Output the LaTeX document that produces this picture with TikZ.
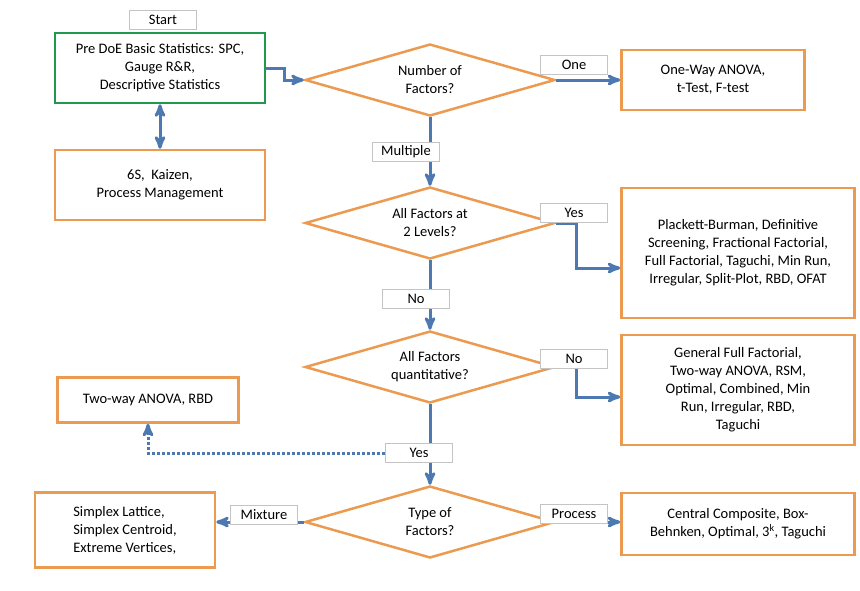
\documentclass[tikz,border=0pt]{standalone}
\usepackage{fontspec}
\setmainfont{Carlito}
\usetikzlibrary{arrows,shapes.geometric}
\definecolor{boxorange}{HTML}{EB9A50}
\definecolor{boxgreen}{HTML}{1F9A4C}
\definecolor{flowblue}{HTML}{4C79B2}
\definecolor{tagborder}{HTML}{C4C4C4}
\begin{document}
\begin{tikzpicture}[x=1pt,y=-1pt,>=stealth',font=\fontsize{14.5}{18}\selectfont,
  box node/.style={rectangle,draw=boxorange,line width=2.5pt,align=center,inner sep=2pt},
  start node/.style={rectangle,draw=boxgreen,line width=2.5pt,align=center,inner sep=2pt},
  decision node/.style={diamond,aspect=3.4,draw=boxorange,line width=2.5pt,align=center,inner sep=0pt,minimum width=250pt,minimum height=72pt},
  tag node/.style={rectangle,draw=tagborder,fill=white,line width=1pt,minimum width=67pt,minimum height=19pt,inner sep=1pt},
  flow/.style={->,draw=flowblue,line width=3pt}]

  \useasboundingbox (0,0) rectangle (860,590);

  % boxes on the left
  \node[tag node] (start) at (163,20) {Start};
  \node[start node,minimum width=210pt,minimum height=70pt] (pre) at (160,68) {Pre DoE Basic Statistics: SPC,\\ Gauge R\&R,\\ Descriptive Statistics};
  \node[box node,minimum width=210pt,minimum height=70pt] (six) at (160,185) {6S,~ Kaizen,\\ Process Management};
  \node[box node,minimum width=181pt,minimum height=45pt] (two) at (148,400) {Two-way ANOVA, RBD};
  \node[box node,minimum width=180pt,minimum height=75pt,align=left] (simp) at (125,530) {Simplex Lattice,\\ Simplex Centroid,\\ Extreme Vertices,};

  % decisions
  \node[decision node] (d1) at (430,80) {Number of\\ Factors?};
  \node[decision node] (d2) at (430,223) {All Factors at\\ 2 Levels?};
  \node[decision node] (d3) at (430,367) {All Factors\\ quantitative?};
  \node[decision node] (d4) at (430,522) {Type of\\ Factors?};

  % boxes on the right
  \node[box node,minimum width=183pt,minimum height=60pt] (anova) at (713,80) {One-Way ANOVA,\\ t-Test, F-test};
  \node[box node,minimum width=233pt,minimum height=130pt] (plack) at (738,253) {Plackett-Burman, Definitive\\ Screening, Fractional Factorial,\\ Full Factorial, Taguchi, Min Run,\\ Irregular, Split-Plot, RBD, OFAT};
  \node[box node,minimum width=233pt,minimum height=110pt] (gen) at (738,390) {General Full Factorial,\\ Two-way ANOVA, RSM,\\ Optimal, Combined, Min\\ Run, Irregular, RBD,\\ Taguchi};
  \node[box node,minimum width=233pt,minimum height=62pt] (cent) at (738,524) {Central Composite, Box-\\ Behnken, Optimal, 3\textsuperscript{k}, Taguchi};

  % connectors
  \draw[flow] (pre.east) -- ++(18,0) |- (d1.west);
  \draw[flow,<->] (pre.south) -- (six.north);
  \draw[flow] (d1.east) -- (anova.west);
  \draw[flow] (d1.south) -- (d2.north);
  \draw[flow] (d2.east) -- ++(20,0) |- ([yshift=-15pt]plack.west);
  \draw[flow] (d2.south) -- (d3.north);
  \draw[flow] (d3.east) -- ++(20,0) |- ([yshift=-7pt]gen.west);
  \draw[flow] (d3.south) -- (d4.north);
  \draw[flow] (d4.west) -- (d4.west -| simp.east);
  \draw[flow] (d4.east) -- (d4.east -| cent.west);

  % labels on the connectors
  \node[tag node] (one) at (574,65) {One};
  \node[tag node] (mult) at (406,152) {Multiple};
  \node[tag node] (yes1) at (574,213) {Yes};
  \node[tag node] (no1) at (416,299) {No};
  \node[tag node] (no2) at (574,359) {No};
  \node[tag node] (yes2) at (419,453) {Yes};
  \node[tag node] (mix) at (264,515) {Mixture};
  \node[tag node] (proc) at (574,514) {Process};

  \draw[flow,dotted] (yes2.west) -| (two.south);
\end{tikzpicture}
\end{document}
